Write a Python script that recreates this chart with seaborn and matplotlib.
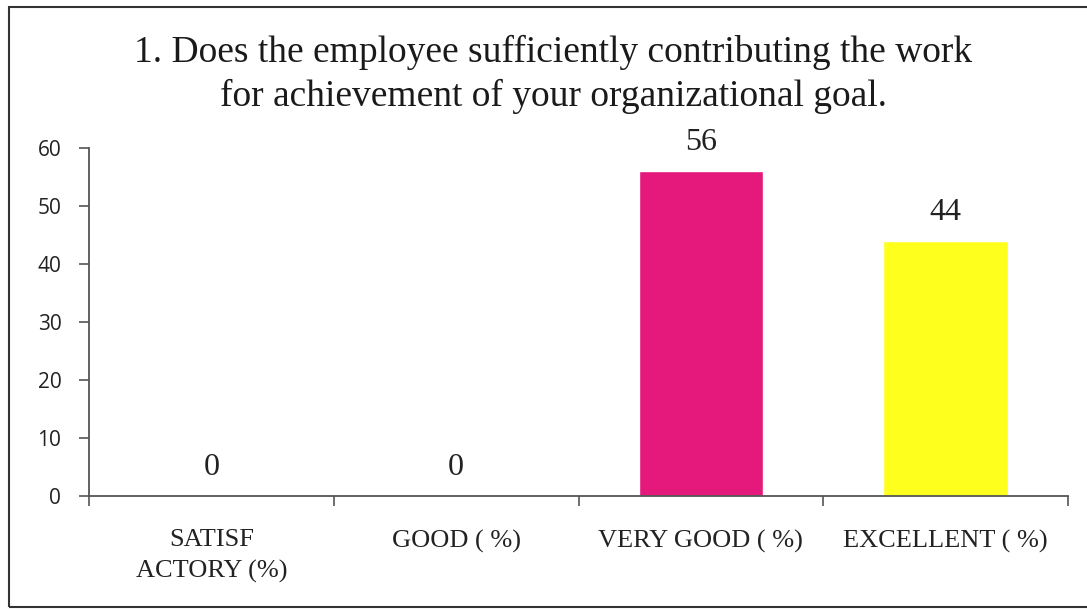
import numpy as np
import pandas as pd
import seaborn as sns
import matplotlib.pyplot as plt
from matplotlib.patches import Rectangle

categories = ["SATISF\nACTORY (%)", "GOOD ( %)", "VERY GOOD ( %)", "EXCELLENT ( %)"]
values = [0, 0, 56, 44]
colors = ["#4F81BD", "#C0504D", "#E5187B", "#FFFF1E"]
title = "1. Does the employee sufficiently contributing the work\nfor achievement of your organizational goal."

sns.set_theme(style="white")
plt.rcParams['font.family'] = ['Liberation Serif', 'DejaVu Serif']

df = pd.DataFrame({"cat": categories, "val": values})

fig = plt.figure(figsize=(10.87, 6.11), dpi=100)
ax = fig.add_axes([0.082, 0.188, 0.9005, 0.57])
sns.barplot(data=df, x="cat", y="val", hue="cat", palette=colors, width=0.51,
            legend=False, ax=ax, saturation=1)

# value labels
for i, v in enumerate(values):
    ax.annotate(str(v), (i, v), xytext=(0, 10), textcoords="offset points",
                ha="center", va="bottom", fontsize=23, color="#222222")

ax.set_ylim(0, 60)
ax.set_xlim(-0.5, 3.5)
ax.set_yticks(range(0, 61, 10))
ax.set_yticklabels([str(t) for t in range(0, 61, 10)], fontfamily="Open Sans",
                   fontsize=15, color="#222222")
ax.set_xticks(np.arange(-0.5, 3.6, 1))
ax.set_xticklabels([])
ax.set_xticks(range(len(categories)), minor=True)
ax.set_xticklabels(categories, minor=True, fontsize=19, color="#222222",
                   linespacing=1.45)
ax.tick_params(axis="x", which="minor", length=0, pad=24)
ax.tick_params(axis="x", which="major", direction="out", length=7, width=1.2,
               color="#555555", bottom=True)
ax.tick_params(axis="y", direction="out", length=7, width=1.2, color="#555555",
               left=True, pad=13)
ax.set_xlabel("")
ax.set_ylabel("")
sns.despine(ax=ax)
for s in ["left", "bottom"]:
    ax.spines[s].set_color("#555555")
    ax.spines[s].set_linewidth(1.3)

fig.text(0.509, 0.878, title, ha="center", va="center", fontsize=27,
         color="#1a1a1a", linespacing=1.3)

# outer chart border
fig.patches.append(Rectangle((0.008, 0.006), 1.1, 0.983, transform=fig.transFigure,
                             fill=False, edgecolor="#333333", linewidth=1.5))

fig.savefig("out.png", dpi=100)
